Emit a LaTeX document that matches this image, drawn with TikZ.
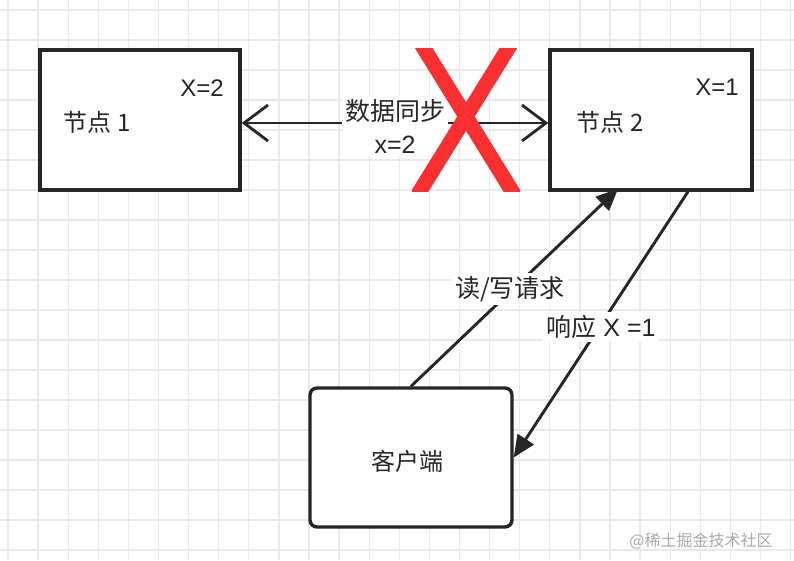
\documentclass[tikz,border=0pt]{standalone}
\usepackage{fontspec}
\setmainfont{Liberation Sans}
\newfontfamily\cjk{Noto Sans CJK SC}
\usetikzlibrary{arrows.meta,calc}
\definecolor{gridc}{RGB}{233,233,233}
\definecolor{ink}{RGB}{38,38,38}
\definecolor{xred}{RGB}{250,48,48}
\definecolor{wm}{RGB}{170,170,170}
\tikzset{
  openarr/.tip={Straight Barb[length=24pt,width=36pt,line width=2.8pt]},
  fillarr/.tip={Triangle[length=22pt,width=19pt]}}
\begin{document}
\begin{tikzpicture}[x=1pt,y=-1pt,
  box/.style={draw=ink,line width=3.4pt,inner sep=0pt,fill=white},
  txt/.style={text=ink,inner sep=0pt,font=\fontsize{24}{28}\selectfont},
  lbl/.style={text=ink,fill=white,inner sep=3pt,align=center,font=\fontsize{25}{33}\selectfont},
  conn/.style={draw=ink,line width=2.9pt}]
\path[use as bounding box] (0,0) rectangle (794,560);
\fill[white] (0,0) rectangle (794,560);
\foreach \i in {0,...,26} \draw[gridc,line width=1.3pt] ({8+30.1*\i},0) -- ++(0,560);
\foreach \j in {0,...,18} \draw[gridc,line width=1.3pt] (0,{10+30*\j}) -- ++(794,0);

% boxes
\node[box,minimum width=200pt,minimum height=140pt] (node1) at (140,120) {};
\node[box,minimum width=202pt,minimum height=140pt] (node2) at (651,120) {};
\node[box,rounded corners=7pt,minimum width=202pt,minimum height=139pt] (client) at (411,457.5) {};

% texts inside boxes
\node[txt] (t1) at (97,122) {\cjk 节点 1};
\node[txt] (x1) at (202,88) {X=2};
\node[txt] (t2) at (610,122) {\cjk 节点 2};
\node[txt] (x2) at (717,87) {X=1};
\node[txt] (tc) at (407,461) {\cjk 客户端};

% sync arrow
\draw[conn,openarr-openarr] ([yshift=-3pt]node1.east) -- ([yshift=-3pt]node2.west);
\node[lbl] (sync) at (395,126) {\cjk 数据同步\\x=2};

% red cross
\begin{scope}
\clip (412,48) rectangle (520,191);
\draw[xred,line width=15pt] (415,34) -- (520,204);
\draw[xred,line width=15pt] (517,34) -- (412,204);
\end{scope}

% request / response
\coordinate (reqend) at ($(node2.south west)!0.34!(node2.south east)+(0,-3)$);
\coordinate (respstart) at ($(node2.south west)!0.68!(node2.south east)$);
\draw[conn,-fillarr] (client.north) -- (reqend);
\draw[conn,-fillarr] (respstart) -- (client.east);
\node[lbl] (req) at (510,289) {\cjk 读/写请求};
\node[lbl] (resp) at (601,327) {{\cjk 响应} X =1};

% watermark
\node[text=wm,inner sep=0pt,font=\cjk\fontsize{16}{18}\selectfont] (wmark) at (701,541) {@稀土掘金技术社区};
\end{tikzpicture}
\end{document}
